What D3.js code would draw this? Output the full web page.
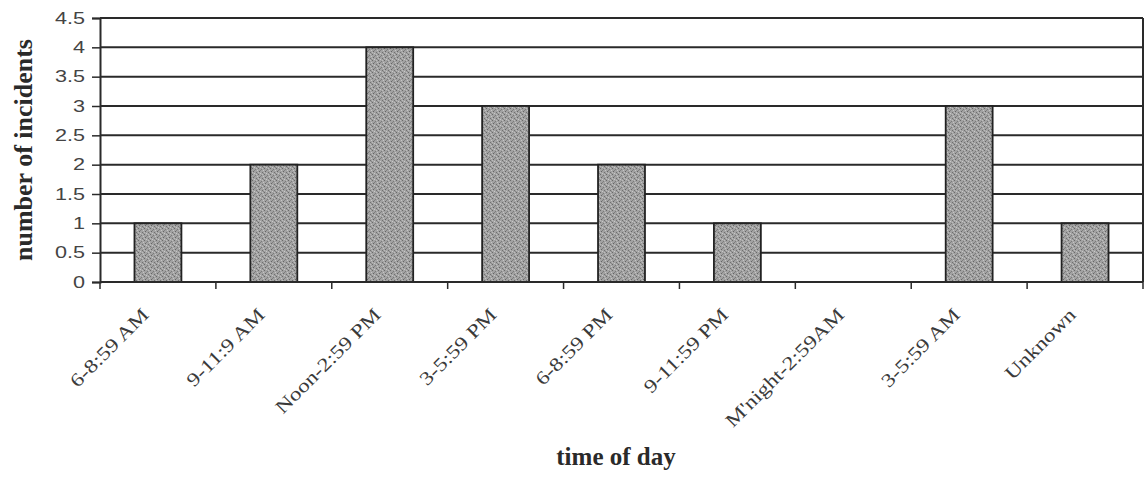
<!DOCTYPE html>
<html><head><meta charset="utf-8">
<script src="https://cdn.jsdelivr.net/npm/d3@7"></script>
<style>body{margin:0;background:#fff}</style>
</head><body>
<svg id="chart" width="1148" height="477"></svg>
<script>
const categories = ["6-8:59 AM","9-11:9 AM","Noon-2:59 PM","3-5:59 PM","6-8:59 PM","9-11:59 PM","M'night-2:59AM","3-5:59 AM","Unknown"];
const incidents = [1,2,4,3,2,1,0,3,1];
const yTicks = [0,0.5,1,1.5,2,2.5,3,3.5,4,4.5];
const yTickLabels = ["0","0.5","1","1.5","2","2.5","3","3.5","4","4.5"];

const svg = d3.select("#chart");
const L=100, R=1143, T=18, B=282;
const x = d3.scaleBand().domain(categories).range([L,R]).padding(0);
const y = d3.scaleLinear().domain([0,4.5]).range([B,T]);
const barFrac = 0.405;

const defs = svg.append("defs");
const pat = defs.append("pattern").attr("id","stip").attr("patternUnits","userSpaceOnUse").attr("width",6).attr("height",6);
pat.append("rect").attr("width",6).attr("height",6).attr("fill","#a2a2a2");
[[0,0,"#6a6a6a"],[3,1,"#7a7a7a"],[1,3,"#666"],[4,4,"#707070"],[2,5,"#c8c8c8"],[5,2,"#c6c6c6"],[4,0,"#bdbdbd"],[0,4,"#bbb"],[2,2,"#808080"],[5,5,"#858585"]].forEach(d=>{
  pat.append("rect").attr("x",d[0]).attr("y",d[1]).attr("width",1).attr("height",1).attr("fill",d[2]);
});

// gridlines
svg.append("g").selectAll("line").data(yTicks.filter(v=>v>0)).join("line")
  .attr("x1",L).attr("x2",R).attr("y1",d=>y(d)).attr("y2",d=>y(d))
  .attr("stroke","#2a2a2a").attr("stroke-width",2);

// bars
const bw = x.bandwidth()*barFrac;
svg.append("g").selectAll("rect").data(categories.map((c,i)=>({c,v:incidents[i]})).filter(d=>d.v>0)).join("rect")
  .attr("x",d=>x(d.c)+(x.bandwidth()-bw)/2).attr("width",bw)
  .attr("y",d=>y(d.v)).attr("height",d=>y(0)-y(d.v))
  .attr("fill","url(#stip)").attr("stroke","#222").attr("stroke-width",1.8);

// y axis
const yAxis = d3.axisLeft(y).tickValues(yTicks).tickFormat((d,i)=>yTickLabels[i]).tickSize(8).tickPadding(7);
const gy = svg.append("g").attr("transform",`translate(${L},0)`).call(yAxis);
gy.select(".domain").attr("stroke","#2a2a2a").attr("stroke-width",2);
gy.selectAll(".tick line").attr("stroke","#2a2a2a").attr("stroke-width",1.5);
gy.selectAll(".tick text").attr("font-family","Liberation Sans, Arial, sans-serif").attr("font-size",16).attr("fill","#444")
  .attr("transform",function(){const xx=+d3.select(this).attr("x");return `translate(${xx},0) scale(1.35,1) translate(${-xx},0)`;});

// x axis baseline and ticks at boundaries
svg.append("line").attr("x1",L).attr("x2",R).attr("y1",B).attr("y2",B).attr("stroke","#2a2a2a").attr("stroke-width",2);
const bounds = categories.map(c=>x(c)).concat([R]);
svg.append("g").selectAll("line").data(bounds).join("line")
  .attr("x1",d=>d).attr("x2",d=>d).attr("y1",B).attr("y2",B+7).attr("stroke","#2a2a2a").attr("stroke-width",1.5);
// right border
svg.append("line").attr("x1",R).attr("x2",R).attr("y1",T).attr("y2",B).attr("stroke","#2a2a2a").attr("stroke-width",2);

// x labels
svg.append("g").selectAll("text").data(categories).join("text")
  .attr("transform",d=>`translate(${x(d)+x.bandwidth()/2-8},${B+34}) rotate(-45) scale(1.22,1)`)
  .attr("text-anchor","end").attr("font-family","Liberation Serif, Times New Roman, serif")
  .attr("font-size",19).attr("fill","#3a3a3a").text(d=>d);

// axis titles
svg.append("text").attr("x",616).attr("y",465).attr("text-anchor","middle")
  .attr("font-family","Liberation Serif, Times New Roman, serif").attr("font-weight","bold").attr("font-size",25).attr("fill","#2a2a2a").text("time of day");
svg.append("text").attr("transform","translate(32,150) rotate(-90)").attr("text-anchor","middle")
  .attr("font-family","Liberation Serif, Times New Roman, serif").attr("font-weight","bold").attr("font-size",26).attr("fill","#2a2a2a").text("number of incidents");
</script>
</body></html>
